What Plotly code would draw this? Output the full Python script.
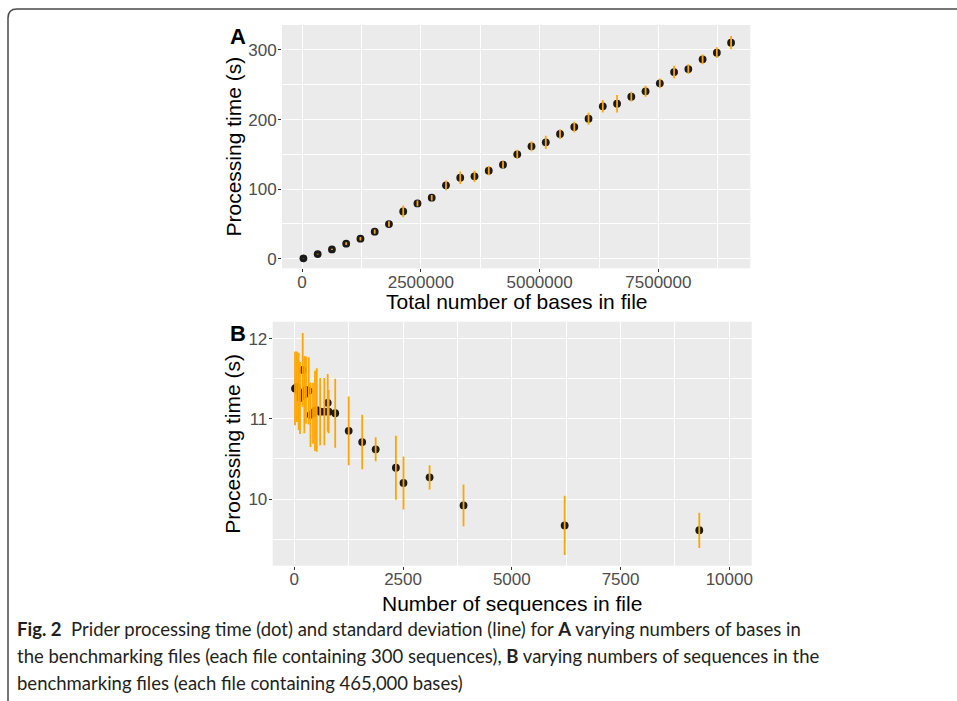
import plotly.graph_objects as go

W, H = 957, 701

# ---------------- data ----------------
# Panel A: total number of bases vs processing time
A_bases = [30000, 330000, 630000, 930000, 1230000, 1530000, 1830000, 2130000,
           2430000, 2730000, 3030000, 3330000, 3630000, 3930000, 4230000,
           4530000, 4830000, 5130000, 5430000, 5730000, 6030000, 6330000,
           6630000, 6930000, 7230000, 7530000, 7830000, 8130000, 8430000,
           8730000, 9030000]
A_time = [0.5, 6.7, 13.4, 21.6, 28.8, 38.8, 49.8, 68.0, 79.5, 87.7, 105.4,
          116.5, 118.4, 126.5, 135.1, 150.0, 161.5, 167.2, 179.2, 189.3,
          201.3, 219.0, 222.8, 232.9, 240.6, 252.0, 268.3, 272.6, 286.5,
          296.1, 310.5]
A_sd = [0.2, 0.5, 1.0, 2.0, 2.5, 3.0, 4.0, 8.4, 4.0, 4.0, 7.0, 9.0, 8.0,
        6.7, 5.0, 6.5, 7.0, 9.6, 7.0, 7.7, 8.6, 9.0, 12.5, 7.0, 8.0, 7.0,
        9.0, 7.0, 7.0, 7.7, 9.6]

# Panel B: number of sequences vs processing time
B_seqs = [16, 60, 100, 131, 193, 230, 269, 331, 372, 430, 475, 515, 594,
          690, 768, 790, 940, 1250, 1560, 1870, 2335, 2510, 3110, 3890,
          6215, 9310]
B_time = [11.38, 11.40, 11.34, 11.26, 11.61, 11.30, 11.36, 11.35, 11.05,
          11.07, 11.10, 11.11, 11.09, 11.09, 11.20, 11.09, 11.07, 10.85,
          10.71, 10.62, 10.39, 10.20, 10.27, 9.92, 9.67, 9.61]
B_sd = [0.46, 0.44, 0.48, 0.45, 0.46, 0.48, 0.42, 0.42, 0.40, 0.38, 0.50,
        0.52, 0.42, 0.42, 0.36, 0.27, 0.43, 0.43, 0.34, 0.15, 0.40, 0.33,
        0.15, 0.26, 0.37, 0.22]

A_xticks = [0, 2500000, 5000000, 7500000]
A_xtext = ["0", "2500000", "5000000", "7500000"]
A_yticks = [0, 100, 200, 300]
B_xticks = [0, 2500, 5000, 7500, 10000]
B_xtext = ["0", "2500", "5000", "7500", "10000"]
B_yticks = [10, 11, 12]


def px(x):
    return x / W


def py(y):
    return 1 - y / H


DOT = "#1a1a1a"
ORANGE = "#FFA500"
PANEL = "#EBEBEB"
FONT = "Liberation Sans, Arial, sans-serif"

fig = go.Figure()

# points then error bars on top (as in ggplot layer order)
fig.add_trace(go.Scatter(x=A_bases, y=A_time, mode="markers",
                         marker=dict(color=DOT, size=7.8),
                         xaxis="x", yaxis="y", hoverinfo="skip"))
fig.add_trace(go.Scatter(x=A_bases, y=A_time, mode="markers",
                         marker=dict(color=DOT, size=1, opacity=0),
                         error_y=dict(type="data", array=A_sd, visible=True,
                                      color=ORANGE, thickness=1.8, width=0),
                         xaxis="x", yaxis="y", hoverinfo="skip"))
fig.add_trace(go.Scatter(x=B_seqs, y=B_time, mode="markers",
                         marker=dict(color=DOT, size=7.8),
                         xaxis="x2", yaxis="y2", hoverinfo="skip"))
fig.add_trace(go.Scatter(x=B_seqs, y=B_time, mode="markers",
                         marker=dict(color=DOT, size=1, opacity=0),
                         error_y=dict(type="data", array=B_sd, visible=True,
                                      color=ORANGE, thickness=1.8, width=0),
                         xaxis="x2", yaxis="y2", hoverinfo="skip"))

tickfont = dict(family=FONT, size=17, color="#4D4D4D")
common = dict(showgrid=True, gridcolor="white", gridwidth=1.2,
              zeroline=False, showline=False, ticks="outside", ticklen=3,
              tickwidth=1, tickcolor="#333333", tickfont=tickfont)

fig.update_layout(
    width=W, height=H,
    margin=dict(l=0, r=0, t=0, b=0),
    paper_bgcolor="white",
    plot_bgcolor=PANEL,
    showlegend=False,
    hovermode=False,
    xaxis=dict(domain=[px(282), px(750.3)], anchor="y",
               range=[-420900, 9434000],
               tickvals=A_xticks, ticktext=A_xtext, ticklabelstandoff=-5,
               minor=dict(showgrid=True, gridcolor="white", gridwidth=0.6,
                          dtick=1250000, tick0=0),
               **common),
    yaxis=dict(domain=[py(268.3), py(25)], anchor="x",
               range=[-13.8, 335.9],
               tickvals=A_yticks, ticklabelstandoff=-2,
               minor=dict(showgrid=True, gridcolor="white", gridwidth=0.6,
                          dtick=50, tick0=0),
               **common),
    xaxis2=dict(domain=[px(272.7), px(751.7)], anchor="y2",
                range=[-497, 10515],
                tickvals=B_xticks, ticktext=B_xtext, ticklabelstandoff=-5,
                minor=dict(showgrid=True, gridcolor="white", gridwidth=0.6,
                           dtick=1250, tick0=0),
                **common),
    yaxis2=dict(domain=[py(565.7), py(321.7)], anchor="x2",
                range=[9.168, 12.212],
                tickvals=B_yticks, ticklabelstandoff=-2,
                minor=dict(showgrid=True, gridcolor="white", gridwidth=0.6,
                           dtick=0.5, tick0=0),
                **common),
)

title_font = dict(family=FONT, size=21, color="black")
ann = []
# axis titles
ann.append(dict(text="Processing time (s)", x=px(233), y=py(146.5),
                textangle=-90, font=title_font))
ann.append(dict(text="Total number of bases in file", x=px(516), y=py(301),
                font=title_font))
ann.append(dict(text="Processing time (s)", x=px(233), y=py(443.7),
                textangle=-90, font=title_font))
ann.append(dict(text="Number of sequences in file", x=px(512), y=py(603),
                font=title_font))
# panel tags
ann.append(dict(text="<b>A</b>", x=px(238), y=py(37),
                font=dict(family=FONT, size=22, color="black")))
ann.append(dict(text="<b>B</b>", x=px(238), y=py(333),
                font=dict(family=FONT, size=22, color="black")))

cap_font = dict(family="Lato, Open Sans, sans-serif", size=18.5, color="#231F20")
caption = [
    "<b>Fig. 2</b>  Prider processing time (dot) and standard deviation (line) for "
    "<b>A</b> varying numbers of bases in",
    "the benchmarking files (each file containing 300 sequences), <b>B</b> varying "
    "numbers of sequences in the",
    "benchmarking files (each file containing 465,000 bases)",
]
for i, line in enumerate(caption):
    ann.append(dict(text=line, x=px(15), y=py(629 + 27 * i), xanchor="left",
                    font=cap_font))

for a in ann:
    a.setdefault("xanchor", "center")
    a.update(xref="paper", yref="paper", yanchor="middle", showarrow=False)
fig.update_layout(annotations=ann)

# figure frame (rounded top-left corner)
frame = (f"M {px(957)},{py(9)} L {px(17)},{py(9)} "
         f"Q {px(8)},{py(9)} {px(8)},{py(18)} L {px(8)},{py(701)}")
fig.add_shape(type="path", path=frame, xref="paper", yref="paper",
              line=dict(color="#4a4a4a", width=1.5))

fig.write_html("out.html",
               config={"displayModeBar": False},
               post_script="document.body.style.margin='0';"
                           "document.body.style.overflow='hidden';")
